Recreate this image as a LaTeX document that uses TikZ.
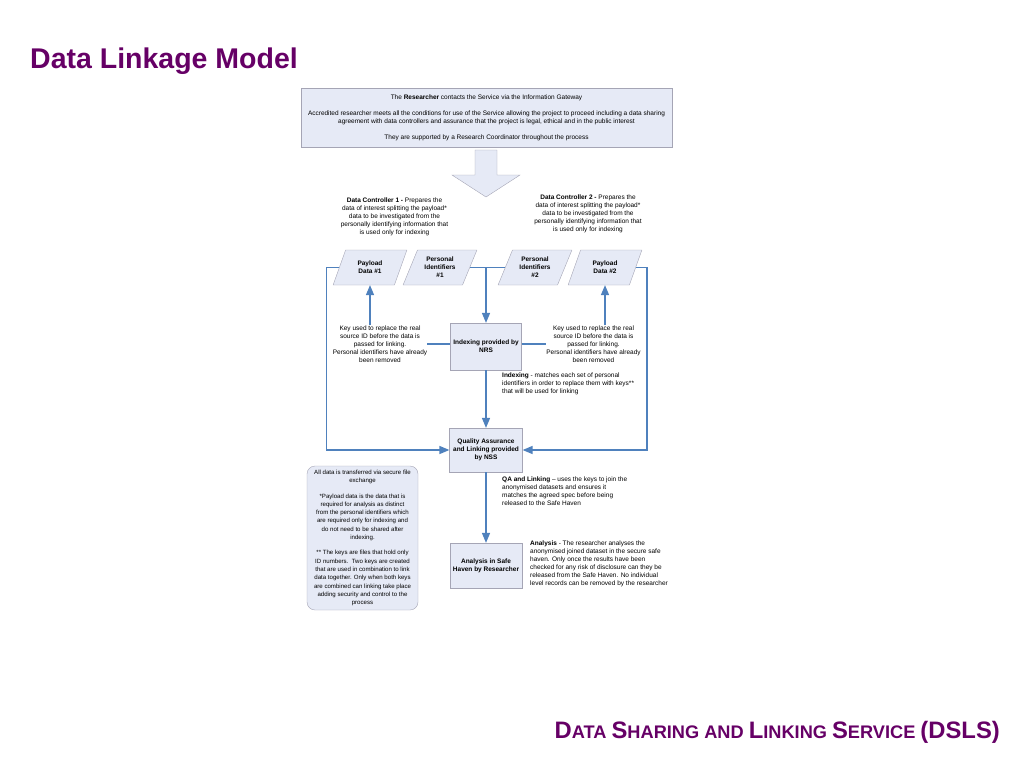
\documentclass[tikz,border=0pt]{standalone}
\usepackage{fontspec}
\setmainfont{Liberation Sans}
\usetikzlibrary{shapes, arrows, calc}
\definecolor{dlpurple}{HTML}{660066}
\definecolor{dlblue}{HTML}{4F81BD}
\definecolor{dlfill}{HTML}{E6EAF6}
\definecolor{dlline}{HTML}{A5A5B5}
\newcommand\tn{\fontsize{6.5}{8}\selectfont}
\newcommand\smcap[2]{{\fontsize{23.8}{25}\selectfont #1}{\fontsize{18.2}{19}\selectfont #2}}

\begin{document}
\begin{tikzpicture}[x=1pt, y=-1pt, >=triangle 45,
  box/.style={draw=dlline, fill=dlfill, inner sep=1pt, align=center, font=\tn\bfseries},
  para/.style={box, trapezium, trapezium left angle=65, trapezium right angle=115,
    trapezium stretches=true, minimum width=74pt, minimum height=35pt},
  txt/.style={inner sep=0pt, font=\tn},
  link/.style={draw=dlblue, line width=1.3pt}]

\useasboundingbox (0,0) rectangle (1024,768);

\node[anchor=base west, inner sep=0pt, text=dlpurple, font=\fontsize{28.5}{29}\selectfont\bfseries] (title) at (30,68) {Data Linkage Model};
\node[anchor=base east, inner sep=0pt, text=dlpurple, font=\fontsize{18.2}{19}\selectfont\bfseries] (footer) at (1000,738)
  {\smcap{D}{ATA} \smcap{S}{HARING} \smcap{}{AND} \smcap{L}{INKING} \smcap{S}{ERVICE} \smcap{(DSLS)}{}};

% researcher
\node[box, font=\tn, minimum width=371pt, minimum height=59pt] (top) at (486.5,117.5)
  {The \textbf{Researcher} contacts the Service via the Information Gateway\\[8pt]
   Accredited researcher meets all the conditions for use of the Service allowing the project to proceed including a data sharing\\
   agreement with data controllers and assurance that the project is legal, ethical and in the public interest\\[8pt]
   They are supported by a Research Coordinator throughout the process};
\draw[draw=dlline, fill=dlfill] (475,150) -- (497,150) -- (497,175) -- (520,175) -- (486,197) -- (452,175) -- (475,175) -- cycle;

% data controllers
\node[txt, align=center] (dc1) at (394.5,217) {\textbf{Data Controller 1 -} Prepares the\\data of interest splitting the payload*\\data to be investigated from the\\personally identifying information that\\is used only for indexing};
\node[txt, align=center] (dc2) at (588,214) {\textbf{Data Controller 2 -} Prepares the\\data of interest splitting the payload*\\data to be investigated from the\\personally identifying information that\\is used only for indexing};

\node[para] (pd1) at (370,267.5) {Payload\\Data \#1};
\node[para] (pi1) at (440,267.5) {Personal\\Identifiers\\\#1};
\node[para] (pi2) at (535,267.5) {Personal\\Identifiers\\\#2};
\node[para] (pd2) at (605,267.5) {Payload\\Data \#2};

% indexing, linking, analysis
\node[box, minimum width=71pt, minimum height=47pt] (idx) at (486,346.5) {Indexing provided by\\NRS};
\node[box, minimum width=73pt, minimum height=44pt] (qa) at (486,450) {Quality Assurance\\and Linking provided\\by NSS};
\node[box, minimum width=72pt, minimum height=45pt] (ana) at (486,565.5) {Analysis in Safe\\Haven by Researcher};

\node[txt, align=center] (keyl) at (380,344) {Key used to replace the real\\source ID before the data is\\passed for linking.\\Personal identifiers have already\\been removed};
\node[txt, align=center] (keyr) at (593.5,344) {Key used to replace the real\\source ID before the data is\\passed for linking.\\Personal identifiers have already\\been removed};

\node[txt, align=left, anchor=north west] (idxtxt) at (502,373) {\textbf{Indexing} - matches each set of personal\\identifiers in order to replace them with keys**\\that will be used for linking};
\node[txt, align=left, anchor=north west] (qatxt) at (502,477) {\textbf{QA and Linking} – uses the keys to join the\\anonymised datasets and ensures it\\matches the agreed spec before being\\released to the Safe Haven};
\node[txt, align=left, anchor=north west] (anatxt) at (530,541) {\textbf{Analysis} - The researcher analyses the\\anonymised joined dataset in the secure safe\\haven. Only once the results have been\\checked for any risk of disclosure can they be\\released from the Safe Haven. No individual\\level records can be removed by the researcher};

\node[box, font=\fontsize{6.1}{8.3}\selectfont, rounded corners=8pt, minimum width=111pt, minimum height=144pt] (note) at (362.5,538)
  {All data is transferred via secure file\\exchange\\[7pt]
   *Payload data is the data that is\\required for analysis as distinct\\from the personal identifiers which\\are required only for indexing and\\do not need to be shared after\\indexing.\\[7pt]
   ** The keys are files that hold only\\ID numbers.\ \ Two keys are created\\that are used in combination to link\\data together. Only when both keys\\are combined can linking take place\\adding security and control to the\\process};

% connectors
\draw[link] (pi1.east) -- (pi2.west);
\draw[link,->] (idx.north |- pi1.east) -- (idx.north);
\draw[link,->] (pd1.west) -- ++(-13,0) |- (qa.west);
\draw[link,->] (pd2.east) -- ++(11,0) |- (qa.east);
\draw[link,->] (pd1.south |- keyl.north) -- (pd1.south);
\draw[link,->] (pd2.south |- keyr.north) -- (pd2.south);
\draw[link] (keyl.east) -- (keyl.east -| idx.west);
\draw[link] (keyr.west -| idx.east) -- (keyr.west);
\draw[link,->] (idx.south) -- (qa.north);
\draw[link,->] (qa.south) -- (ana.north);

\end{tikzpicture}
\end{document}
